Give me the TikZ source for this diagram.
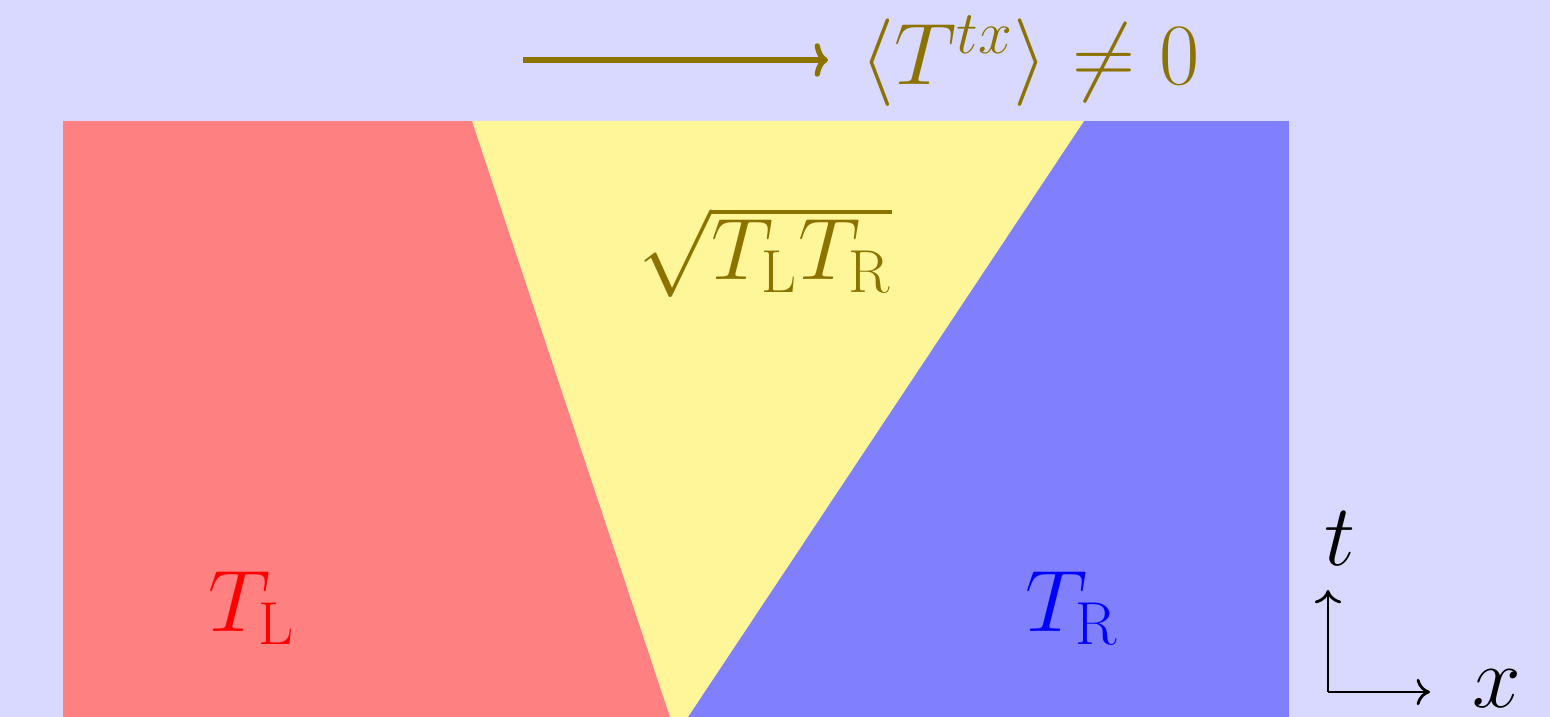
\documentclass[tikz,border=0pt]{standalone}
\usepackage{tikz}
\usetikzlibrary{arrows.meta}
\definecolor{bgblue}{HTML}{D9D9FF}
\definecolor{hotred}{HTML}{FF8080}
\definecolor{coldblue}{HTML}{8080FF}
\definecolor{mixyellow}{HTML}{FFF599}
\definecolor{fluxolive}{HTML}{8C7300}
\tikzset{
  regionlabel/.style={
    font=\fontsize{25.5}{30}\selectfont,
    inner sep=0pt
  },
  flowarrow/.style={
    -{To[length=3.8pt,width=9.5pt]},
    line width=1.5pt,
    draw=fluxolive
  },
  axisarrow/.style={
    -{To[length=3.8pt,width=7.5pt]},
    line width=0.8pt,
    draw=black
  }
}

\begin{document}
\begin{tikzpicture}
    \fill[bgblue] (0,0) rectangle (15.5,7.17);
    \useasboundingbox (0,0) rectangle (15.5,7.17);

    % the two reservoirs and the mixed wedge
    \begin{scope}
        \clip (0.63,0) rectangle (12.89,5.96);
        \fill[hotred] (0.63,0) rectangle (6.78,5.96);
        \fill[coldblue] (6.78,0) rectangle (12.89,5.96);
        \fill[mixyellow] (4.72,5.96) -- (10.84,5.96) -- (6.76,-0.18) -- cycle;
    \end{scope}

    \node[regionlabel, text=red] (left) at (2.52,1.09) {$T_{\mathrm{L}}$};
    \node[regionlabel, text=blue] (right) at (10.72,1.09) {$T_{\mathrm{R}}$};
    \node[regionlabel, text=fluxolive] (mid) at (7.65,4.65) {$\sqrt{T_{\mathrm{L}}T_{\mathrm{R}}}$};

    % energy current
    \coordinate (flowstart) at (5.23,6.57);
    \coordinate (flowend) at (8.28,6.57);
    \node[regionlabel, text=fluxolive, anchor=base west] (flux) at (8.60,6.32)
        {$\langle T^{tx}\rangle \neq 0$};
    \draw[flowarrow] (flowstart) -- (flowend);

    % axes
    \coordinate (origin) at (13.28,0.25);
    \coordinate (tend) at (13.28,1.27);
    \coordinate (xend) at (14.30,0.25);
    \draw[axisarrow] (origin) -- (tend);
    \draw[axisarrow] (origin) -- (xend);
    \node[regionlabel] (tlabel) at (13.40,1.78) {$t$};
    \node[regionlabel] (xlabel) at (14.97,0.28) {$x$};
\end{tikzpicture}
\end{document}
